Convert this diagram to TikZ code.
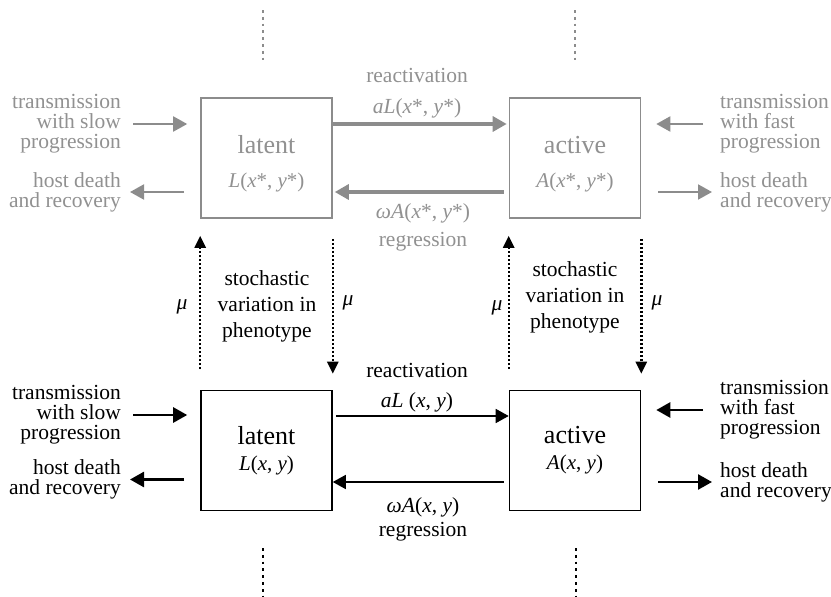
\documentclass[tikz,border=0pt]{standalone}
\usepackage{fontspec}
\setmainfont{Liberation Serif}
\usetikzlibrary{arrows.meta}
\definecolor{fade}{RGB}{140,140,140}
\definecolor{fadetext}{RGB}{145,145,145}
\tikzset{
  box/.style={draw, line width=1.6pt, minimum width=131pt, minimum height=120pt,
    align=center, inner sep=0pt, font=\fontsize{26}{28}\selectfont},
  txt/.style={inner sep=0pt, font=\fontsize{21.5}{20}\selectfont},
  tip/.style={-{Triangle[length=14pt,width=15pt]}},
  dtip/.style={-{Triangle[length=12pt,width=11pt]}},
  dots/.style={line width=2.8pt, dash pattern=on 2.8pt off 4pt},
  fine dots/.style={line width=2.4pt, dash pattern=on 2pt off 2pt},
}
\newcommand{\sm}{\fontsize{21}{20}\selectfont}
\begin{document}
\begin{tikzpicture}[x=1pt, y=-1pt]
      \useasboundingbox (0,0) rectangle (831,597);
      % upper level (grey)
      \begin{scope}[color=fade, text=fadetext]
      \draw
        (266.5,158) node[box] (lt){\rule{0pt}{30pt}latent\\[6pt]{\sm\textit{L}(\textit{x}*, \textit{y}*)}}
        (575,158) node[box] (at){\rule{0pt}{30pt}active\\[6pt]{\sm\textit{A}(\textit{x}*, \textit{y}*)}}
        (417,75) node[txt] (rt){reactivation}
        (417,108) node[txt] (ra){\textit{aL}(\textit{x}*, \textit{y}*)}
        (423,213) node[txt] (ga){\textit{ωA}(\textit{x}*, \textit{y}*)}
        (423,242) node[txt] (gt){regression}
        (121,124) node[txt, anchor=east, align=right] (st){transmission\\with slow\\progression}
        (121,192) node[txt, anchor=east, align=right] (dl){host death\\and recovery}
        (720,124) node[txt, anchor=west, align=left] (ft){transmission\\with fast\\progression}
        (720,192) node[txt, anchor=west, align=left] (dr){host death\\and recovery};
      \begin{scope}[tip]
        \draw[line width=3.2pt, shorten >=2pt] ([yshift=34]lt.east) to ([yshift=34]at.west);
        \draw[line width=3.2pt, shorten <=5pt, shorten >=2pt] ([yshift=-34]at.west) to ([yshift=-34]lt.east);
        \draw[line width=2pt, shorten <=12pt, shorten >=13pt] (st.east) to (st.east -| lt.west);
        \draw[line width=2pt, shorten <=16pt, shorten >=9pt] (dl.east -| lt.west) to (dl.east);
        \draw[line width=2pt, shorten <=17pt, shorten >=15pt] (ft.west) to (ft.west -| at.east);
        \draw[line width=2pt, shorten <=17pt, shorten >=8pt] (dr.west -| at.east) to (dr.west);
      \end{scope}
      \draw[dots] (263,10) coordinate (u1) to (263,62) coordinate (u2);
      \draw[dots] (575,10) coordinate (u3) to (575,62) coordinate (u4);
      \end{scope}
      % lower level
      \draw
        (266.5,450.5) node[box] (lb){latent\\[-2pt]{\sm\textit{L}(\textit{x}, \textit{y})}}
        (575,450.5) node[box] (ab){active\\[-2pt]{\sm\textit{A}(\textit{x}, \textit{y})}}
        (417,370) node[txt] (rb){reactivation}
        (417,402) node[txt] (rc){\textit{aL} (\textit{x}, \textit{y})}
        (423,507) node[txt] (gc){\textit{ωA}(\textit{x}, \textit{y})}
        (423,532) node[txt] (gb){regression}
        (121,415) node[txt, anchor=east, align=right] (sb){transmission\\with slow\\progression}
        (121,479.5) node[txt, anchor=east, align=right] (el){host death\\and recovery}
        (720,410) node[txt, anchor=west, align=left] (fb){transmission\\with fast\\progression}
        (720,482) node[txt, anchor=west, align=left] (er){host death\\and recovery};
      % phenotype variation between levels
      \draw
        (267,306) node[txt, align=center, font=\fontsize{21.5}{26}\selectfont] (vl){stochastic\\variation in\\phenotype}
        (575,297) node[txt, align=center, font=\fontsize{21.5}{26}\selectfont] (vr){stochastic\\variation in\\phenotype}
        (182,307) node[txt] (m1){\textit{μ}}
        (348,303) node[txt] (m2){\textit{μ}}
        (497,308) node[txt] (m3){\textit{μ}}
        (657,303) node[txt] (m4){\textit{μ}};
      \begin{scope}[tip]
        \draw[line width=1.6pt, -{Triangle[length=13pt,width=14pt]}, shorten <=3pt] ([yshift=34.5]lb.east) to ([yshift=34.5]ab.west);
        \draw[line width=1.6pt, -{Triangle[length=13pt,width=14pt]}, shorten <=5pt] ([yshift=-31.5]ab.west) to ([yshift=-31.5]lb.east);
        \draw[line width=2.6pt, shorten <=12pt, shorten >=13pt] (sb.east) to (sb.east -| lb.west);
        \draw[line width=2.6pt, shorten <=16pt, shorten >=9pt] (el.east -| lb.west) to (el.east);
        \draw[line width=2.6pt, shorten <=17pt, shorten >=15pt] (fb.west) to (fb.west -| ab.east);
        \draw[line width=2.6pt, shorten <=17pt, shorten >=8pt] (er.west -| ab.east) to (er.west);
      \end{scope}
      \begin{scope}[fine dots, dtip]
        \draw[shorten <=21pt, shorten >=17pt] (lb.north west) to (lt.south west);
        \draw[shorten <=20pt, shorten >=16pt] (lt.south east) to (lb.north east);
        \draw[shorten <=21pt, shorten >=17pt] (ab.north west) to (at.south west);
        \draw[shorten <=20pt, shorten >=16pt] (at.south east) to (ab.north east);
      \end{scope}
      \draw[dots, line width=2.3pt] (263,548) coordinate (d1) to (263,597) coordinate (d2);
      \draw[dots, line width=2.3pt] (576,548) coordinate (d3) to (576,597) coordinate (d4);
    \end{tikzpicture}
\end{document}
